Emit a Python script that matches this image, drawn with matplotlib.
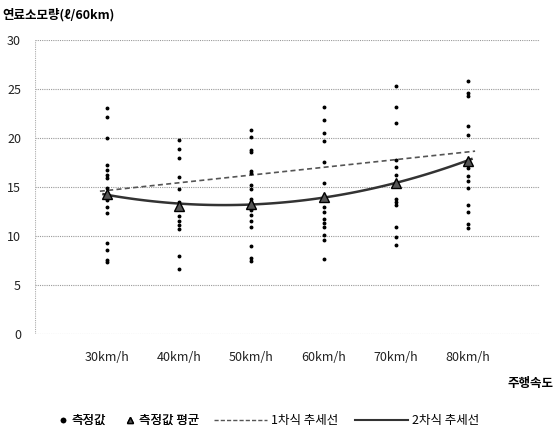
import numpy as np
import matplotlib
matplotlib.use("Agg")
import matplotlib.pyplot as plt
from matplotlib.lines import Line2D

plt.rcParams['font.family'] = ['Noto Sans CJK KR', 'DejaVu Sans']

speeds = ['30km/h', '40km/h', '50km/h', '60km/h', '70km/h', '80km/h']

# measured fuel use per run (l/60km)
measured = [
    [23.1, 22.1, 20.0, 17.2, 16.7, 16.2, 15.9, 14.9, 14.4, 13.7, 13.0, 12.4, 9.3, 8.6, 7.6, 7.4],
    [19.8, 18.9, 18.0, 16.0, 14.8, 13.5, 12.8, 12.0, 11.5, 11.1, 10.7, 8.0, 6.6],
    [20.8, 20.1, 18.8, 18.6, 16.6, 16.4, 15.2, 14.8, 13.8, 13.5, 12.7, 12.2, 11.5, 10.9, 9.0, 7.8, 7.5],
    [23.2, 21.8, 20.5, 19.7, 17.6, 15.4, 13.0, 12.5, 11.7, 11.3, 10.9, 10.1, 9.6, 7.7],
    [25.3, 23.2, 21.5, 17.8, 17.0, 16.2, 13.8, 13.5, 13.2, 10.9, 9.9, 9.1],
    [25.8, 24.6, 24.3, 21.2, 20.3, 16.9, 16.1, 15.6, 14.9, 13.2, 12.5, 11.2, 10.8],
]
means = [14.3, 13.1, 13.3, 14.0, 15.4, 17.7]
linear_trend = [14.7, 15.4, 16.2, 17.0, 17.8, 18.6]

fig = plt.figure(figsize=(5.55, 4.29), dpi=100)
ax = fig.add_axes([0.063, 0.221, 0.91, 0.686])

x = np.arange(len(speeds))

# scatter of all runs
for i, vals in enumerate(measured):
    ax.plot([x[i]] * len(vals), vals, 'o', color='black', markersize=1.8, zorder=3)

# linear trend, extended a little past ends
lc = np.polyfit(x, linear_trend, 1)
xl = np.linspace(-0.1, 5.1, 50)
ax.plot(xl, np.polyval(lc, xl), '--', color='#555555', lw=1.2, dashes=(3, 2), zorder=2)

# quadratic trend of the means
qc = np.polyfit(x, means, 2)
xq = np.linspace(-0.05, 5.05, 100)
ax.plot(xq, np.polyval(qc, xq), '-', color='#333333', lw=1.8, zorder=2)

ax.plot(x, means, '^', color='#555555', markeredgecolor='black', markersize=7, zorder=4)

ax.set_xlim(-1, 6)
ax.set_ylim(0, 30)
ax.set_yticks(range(0, 31, 5))
ax.set_xticks(x)
ax.set_xticklabels(speeds, fontsize=9)
ax.tick_params(axis='both', length=0, labelsize=9, colors='#222222')
ax.tick_params(axis='x', pad=12)
ax.tick_params(axis='y', pad=10)
for s in ax.spines.values():
    s.set_visible(False)
ax.axvline(-1, color='#aaaaaa', lw=0.8, ls=(0, (1, 1)))
ax.grid(axis='y', color='#999999', lw=0.8, ls=(0, (1, 1)))
ax.set_axisbelow(True)

fig.text(0.005, 0.965, '연료소모량(ℓ/60km)', fontsize=9, fontweight='bold', va='center', ha='left')
fig.text(0.998, 0.105, '주행속도', fontsize=9, fontweight='bold', va='center', ha='right')

# legend in two parts: short handles for markers, long for lines
mk_handles = [
    Line2D([], [], ls='none', marker='o', color='black', markersize=3),
    Line2D([], [], ls='none', marker='^', color='#555555', markeredgecolor='black', markersize=5),
]
ln_handles = [
    Line2D([], [], ls='--', color='#555555', lw=1, dashes=(3, 1.5)),
    Line2D([], [], ls='-', color='#333333', lw=1.5),
]
leg1 = fig.legend(mk_handles, ['측정값', '측정값 평균'], loc='center right', bbox_to_anchor=(0.37, 0.02),
                  ncol=2, frameon=False, fontsize=9, handlelength=0.6, handletextpad=0.4,
                  columnspacing=1.6, borderpad=0)
fig.add_artist(leg1)
fig.legend(ln_handles, ['1차식 추세선', '2차식 추세선'], loc='center left', bbox_to_anchor=(0.375, 0.02),
           ncol=2, frameon=False, fontsize=9, handlelength=4.2, handletextpad=0.3,
           columnspacing=1.4, borderpad=0)

fig.savefig('out.png', dpi=100)
